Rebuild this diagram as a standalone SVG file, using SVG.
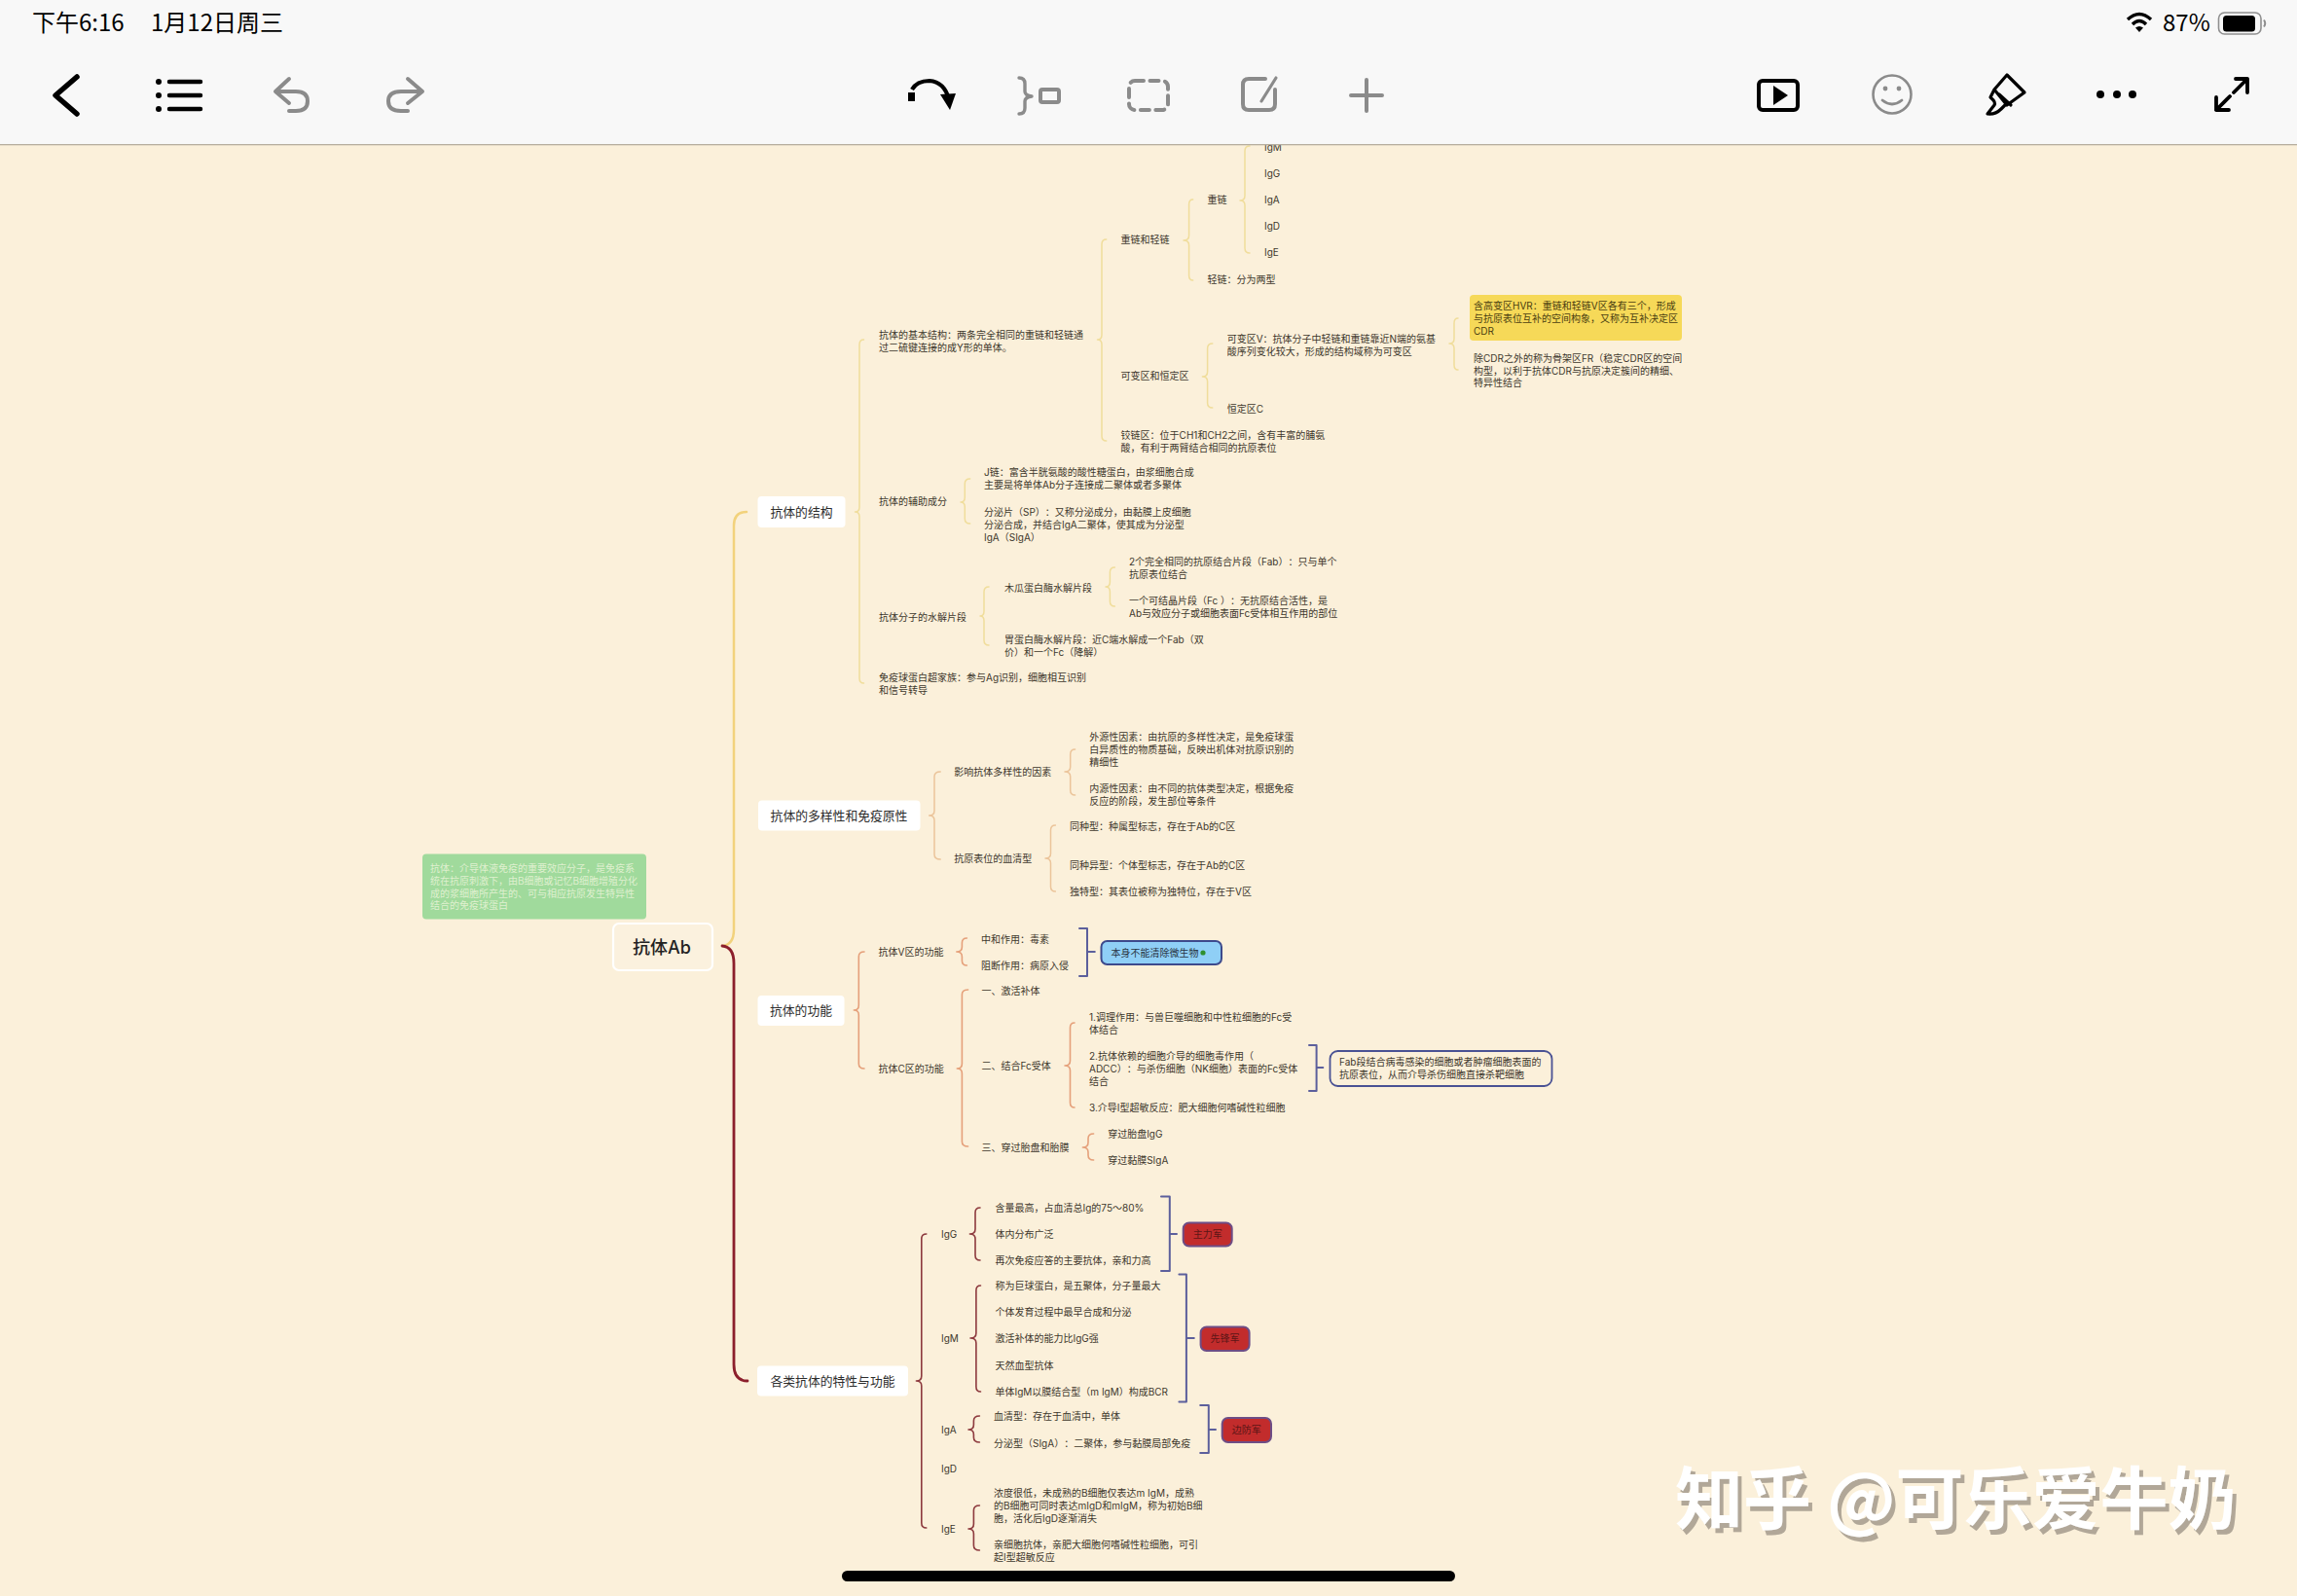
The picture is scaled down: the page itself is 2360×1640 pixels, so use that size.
<svg xmlns="http://www.w3.org/2000/svg" width="2360" height="1640" viewBox="0 0 2360 1640">
<defs><filter id="wmShadow" x="-5%" y="-20%" width="110%" height="140%"><feDropShadow dx="4" dy="5" stdDeviation="0" flood-color="#b1a798"/></filter></defs>
<style>
text{font-family:"Inter","Noto Sans CJK SC","Noto Sans",sans-serif;text-spacing-trim:space-all}
.t{font-size:10px;fill:#3d372c}
.hd{font-size:12.8px;fill:#2c2c2c;text-anchor:middle}
.card{fill:#fff}
.c{fill:none;stroke-linecap:round;stroke-linejoin:round}
.y{stroke:#f0dd9b;stroke-width:1.5}
.o{stroke:#ebc49a;stroke-width:1.5}
.s{stroke:#e5a07a;stroke-width:1.6}
.r{stroke:#8d3a3e;stroke-width:1.6}
.n{stroke:#5c5f9c;stroke-width:2}
.redbox{fill:#c22c2c;stroke:#6d4d86;stroke-width:2}
.redt{font-size:10px;fill:#5c1616;text-anchor:middle}
.sys{font-size:24px;fill:#000;font-family:"Noto Sans CJK SC",sans-serif}
.blk{fill:none;stroke:#000;stroke-width:4.5;stroke-linecap:round;stroke-linejoin:round}
.gry{fill:none;stroke:#8b8b8b;stroke-width:4;stroke-linecap:round;stroke-linejoin:round}
.wm{font-family:"Noto Sans CJK SC",sans-serif;font-size:70px;font-weight:700;fill:#fff;filter:url(#wmShadow)}
</style>
<rect width="2360" height="1640" fill="#fbf0da"/>
<g id="connectors">
<path class="c" stroke="#f2d27c" stroke-width="2.5" d="M767 526Q754 526 754 540V955Q754 971 742 972"/>
<path class="c" stroke="#8c1f2c" stroke-width="2.8" d="M742 972Q754 973 754 990V1402Q754 1419 768 1419"/>
<path class="c y" d="M887.5 349Q883 349 883 354V521Q883 526 878.5 526Q883 526 883 531V697Q883 702 887.5 702"/>
<path class="c y" d="M1136.7 246Q1132 246 1132 251V344Q1132 349 1127.5 349Q1132 349 1132 354V448Q1132 453 1136.7 453"/>
<path class="c y" d="M1225.7 205Q1221.6 205 1221.6 210V242Q1221.6 247 1216 247Q1221.6 247 1221.6 252V283Q1221.6 288 1225.7 288"/>
<path class="c y" d="M1284 150Q1279 150 1279 155V201Q1279 206 1274 206Q1279 206 1279 211V255Q1279 260 1284 260"/>
<path class="c y" d="M1245.8 353Q1240.6 353 1240.6 358V382Q1240.6 387 1235.4 387Q1240.6 387 1240.6 392V414Q1240.6 419 1245.8 419"/>
<path class="c y" d="M1498 327Q1494 327 1494 332V348Q1494 353 1489 353Q1494 353 1494 358V375Q1494 380 1498 380"/>
<path class="c y" d="M996.7 492Q991.3 492 991.3 497V511Q991.3 516 987 516Q991.3 516 991.3 521V533Q991.3 538 996.7 538"/>
<path class="c y" d="M1016 603Q1011 603 1011 608V628Q1011 633 1007 633Q1011 633 1011 638V658Q1011 663 1016 663"/>
<path class="c y" d="M1145.4 583Q1140.4 583 1140.4 588V598Q1140.4 603 1136 603Q1140.4 603 1140.4 608V618Q1140.4 623 1145.4 623"/>
<path class="c o" d="M966.2 793Q960 793 960 798V833Q960 838 954.6 838Q960 838 960 843V878Q960 883 966.2 883"/>
<path class="c o" d="M1104.6 770Q1099.7 770 1099.7 775V788Q1099.7 793 1094 793Q1099.7 793 1099.7 798V812Q1099.7 817 1104.6 817"/>
<path class="c o" d="M1084.4 848Q1079.5 848 1079.5 853V877Q1079.5 882 1074 882Q1079.5 882 1079.5 887V911Q1079.5 916 1084.4 916"/>
<path class="c s" d="M888 978Q882.3 978 882.3 983V1033Q882.3 1038 877.3 1038Q882.3 1038 882.3 1043V1093Q882.3 1098 888 1098"/>
<path class="c s" d="M993.4 964Q988.4 964 988.4 969V973Q988.4 978 982.8 978Q988.4 978 988.4 983V987Q988.4 992 993.4 992"/>
<path class="c s" d="M994.6 1017Q988.4 1017 988.4 1022V1093Q988.4 1098 983.3 1098Q988.4 1098 988.4 1103V1173Q988.4 1178 994.6 1178"/>
<path class="c s" d="M1104 1051Q1099.5 1051 1099.5 1056V1090Q1099.5 1095 1094 1095Q1099.5 1095 1099.5 1100V1133Q1099.5 1138 1104 1138"/>
<path class="c s" d="M1123.6 1165Q1118 1165 1118 1170V1174Q1118 1179 1112.4 1179Q1118 1179 1118 1184V1187Q1118 1192 1123.6 1192"/>
<path class="c r" d="M951.8 1268Q946.8 1268 946.8 1273V1414Q946.8 1419 941.4 1419Q946.8 1419 946.8 1424V1565Q946.8 1570 951.8 1570"/>
<path class="c r" d="M1007 1241Q1002 1241 1002 1246V1263Q1002 1268 996.4 1268Q1002 1268 1002 1273V1290Q1002 1295 1007 1295"/>
<path class="c r" d="M1007.5 1321Q1002.9 1321 1002.9 1326V1370Q1002.9 1375 997 1375Q1002.9 1375 1002.9 1380V1425Q1002.9 1430 1007.5 1430"/>
<path class="c r" d="M1006.4 1455Q1000.4 1455 1000.4 1460V1464Q1000.4 1469 995 1469Q1000.4 1469 1000.4 1474V1477Q1000.4 1482 1006.4 1482"/>
<path class="c r" d="M1006.4 1547Q1000.4 1547 1000.4 1552V1566Q1000.4 1571 995 1571Q1000.4 1571 1000.4 1576V1588Q1000.4 1593 1006.4 1593"/>
<path class="c n" d="M1109 954H1117V1003H1109M1117 978H1124.8"/>
<path class="c n" d="M1345 1074H1352.6V1121H1345M1352.6 1097H1359.3"/>
<path class="c n" d="M1193 1229.5H1201.8V1306H1193M1201.8 1268H1209"/>
<path class="c n" d="M1211.4 1309.5H1218.9V1440.5H1211.4M1218.9 1375H1226.8"/>
<path class="c n" d="M1233.2 1444H1241.8V1493H1233.2M1241.8 1469H1249"/>
</g>
<g id="root"><rect x="630" y="949" width="102" height="48" rx="6" fill="#fbf1de" stroke="#fff" stroke-width="2.2"/><text x="680" y="979.5" text-anchor="middle" font-size="18" font-weight="500" fill="#222">抗体Ab</text></g>
<g id="note-antibody"><rect x="434" y="877.5" width="230" height="67" rx="4" fill="#a0da9c"/><text class="t" style="fill:#dff0cf"><tspan x="442" y="896">抗体：介导体液免疫的重要效应分子，是免疫系</tspan><tspan x="442" y="909">统在抗原刺激下，由B细胞或记忆B细胞增殖分化</tspan><tspan x="442" y="921.5">成的浆细胞所产生的、可与相应抗原发生特异性</tspan><tspan x="442" y="934">结合的免疫球蛋白</tspan></text></g>
<g id="branch-structure"><rect class="card" x="778.5" y="510" width="90" height="32" rx="4"/><text class="hd" x="823.5" y="530.5">抗体的结构</text></g>
<g id="branch-diversity"><rect class="card" x="779" y="822.5" width="166.5" height="31" rx="4"/><text class="hd" x="862" y="843">抗体的多样性和免疫原性</text></g>
<g id="branch-function"><rect class="card" x="778.5" y="1023" width="89" height="31" rx="4"/><text class="hd" x="823" y="1043">抗体的功能</text></g>
<g id="branch-classes"><rect class="card" x="778" y="1403.5" width="155" height="31" rx="4"/><text class="hd" x="855.5" y="1424">各类抗体的特性与功能</text></g>
<g id="n-basic"><text class="t"><tspan x="903" y="347.5">抗体的基本结构：两条完全相同的重链和轻链通</tspan><tspan x="903" y="360.5">过二硫键连接的成Y形的单体。</tspan></text></g>
<g id="n-hl"><text class="t" x="1151.6" y="250">重链和轻链</text></g>
<g id="n-heavy"><text class="t" x="1240.6" y="209">重链</text></g>
<g id="n-igm1"><text class="t" x="1299" y="155">IgM</text></g>
<g id="n-igg1"><text class="t" x="1299" y="182">IgG</text></g>
<g id="n-iga1"><text class="t" x="1299" y="209">IgA</text></g>
<g id="n-igd1"><text class="t" x="1299" y="236">IgD</text></g>
<g id="n-ige1"><text class="t" x="1299" y="263">IgE</text></g>
<g id="n-light"><text class="t" x="1240.6" y="291">轻链：分为两型</text></g>
<g id="n-vc"><text class="t" x="1151.6" y="390">可变区和恒定区</text></g>
<g id="n-v"><text class="t"><tspan x="1260.7" y="351.5">可变区V：抗体分子中轻链和重链靠近N端的氨基</tspan><tspan x="1260.7" y="364.5">酸序列变化较大，形成的结构域称为可变区</tspan></text></g>
<g id="n-hvr"><rect x="1510" y="303" width="218" height="47" rx="4" fill="#f6d958"/><text class="t" style="fill:#4a3d10"><tspan x="1514" y="318">含高变区HVR：重链和轻链V区各有三个，形成</tspan><tspan x="1514" y="331">与抗原表位互补的空间构象，又称为互补决定区</tspan><tspan x="1514" y="344">CDR</tspan></text></g>
<g id="n-fr"><text class="t"><tspan x="1514" y="371.5">除CDR之外的称为骨架区FR（稳定CDR区的空间</tspan><tspan x="1514" y="384.5">构型，以利于抗体CDR与抗原决定簇间的精细、</tspan><tspan x="1514" y="397">特异性结合</tspan></text></g>
<g id="n-c"><text class="t" x="1260.7" y="424">恒定区C</text></g>
<g id="n-hinge"><text class="t"><tspan x="1151.6" y="451">铰链区：位于CH1和CH2之间，含有丰富的脯氨</tspan><tspan x="1151.6" y="464">酸，有利于两臂结合相同的抗原表位</tspan></text></g>
<g id="n-aux"><text class="t" x="903" y="519">抗体的辅助成分</text></g>
<g id="n-j"><text class="t"><tspan x="1011" y="489">J链：富含半胱氨酸的酸性糖蛋白，由浆细胞合成</tspan><tspan x="1011" y="502">主要是将单体Ab分子连接成二聚体或者多聚体</tspan></text></g>
<g id="n-sp"><text class="t"><tspan x="1011" y="530">分泌片（SP）：又称分泌成分，由黏膜上皮细胞</tspan><tspan x="1011" y="543">分泌合成，并结合IgA二聚体，使其成为分泌型</tspan><tspan x="1011" y="556">IgA（SIgA）</tspan></text></g>
<g id="n-frag"><text class="t" x="903" y="638">抗体分子的水解片段</text></g>
<g id="n-papain"><text class="t" x="1032" y="608">木瓜蛋白酶水解片段</text></g>
<g id="n-fab"><text class="t"><tspan x="1160" y="581">2个完全相同的抗原结合片段（Fab）：只与单个</tspan><tspan x="1160" y="594">抗原表位结合</tspan></text></g>
<g id="n-fc"><text class="t"><tspan x="1160" y="621">一个可结晶片段（Fc ）：无抗原结合活性，是</tspan><tspan x="1160" y="634">Ab与效应分子或细胞表面Fc受体相互作用的部位</tspan></text></g>
<g id="n-pepsin"><text class="t"><tspan x="1032" y="661">胃蛋白酶水解片段：近C端水解成一个Fab（双</tspan><tspan x="1032" y="674">价）和一个Fc（降解）</tspan></text></g>
<g id="n-igsf"><text class="t"><tspan x="903" y="700">免疫球蛋白超家族：参与Ag识别，细胞相互识别</tspan><tspan x="903" y="713">和信号转导</tspan></text></g>
<g id="n-factors"><text class="t" x="980.3" y="797">影响抗体多样性的因素</text></g>
<g id="n-ext"><text class="t"><tspan x="1119.3" y="761">外源性因素：由抗原的多样性决定，是免疫球蛋</tspan><tspan x="1119.3" y="774">白异质性的物质基础，反映出机体对抗原识别的</tspan><tspan x="1119.3" y="787">精细性</tspan></text></g>
<g id="n-int"><text class="t"><tspan x="1119.3" y="814">内源性因素：由不同的抗体类型决定，根据免疫</tspan><tspan x="1119.3" y="827">反应的阶段，发生部位等条件</tspan></text></g>
<g id="n-sero"><text class="t" x="980.3" y="886">抗原表位的血清型</text></g>
<g id="n-iso"><text class="t" x="1099" y="853">同种型：种属型标志，存在于Ab的C区</text></g>
<g id="n-allo"><text class="t" x="1099" y="893">同种异型：个体型标志，存在于Ab的C区</text></g>
<g id="n-idio"><text class="t" x="1099" y="920">独特型：其表位被称为独特位，存在于V区</text></g>
<g id="n-vfun"><text class="t" x="902.5" y="982">抗体V区的功能</text></g>
<g id="n-neut"><text class="t" x="1008" y="969">中和作用：毒素</text></g>
<g id="n-block"><text class="t" x="1008" y="996">阻断作用：病原入侵</text></g>
<g id="n-nokill"><rect x="1131.5" y="967" width="123.5" height="24" rx="6" fill="#8fcff6" stroke="#3d4a8c" stroke-width="2"/><text class="t" x="1141.5" y="982.5" style="fill:#28333f">本身不能清除微生物</text><circle cx="1236" cy="979" r="2.6" fill="#2f8f2f"/></g>
<g id="n-cfun"><text class="t" x="902.5" y="1102">抗体C区的功能</text></g>
<g id="n-comp"><text class="t" x="1008.6" y="1022">一、激活补体</text></g>
<g id="n-fcr"><text class="t" x="1008.6" y="1099">二、结合Fc受体</text></g>
<g id="n-opso"><text class="t"><tspan x="1119" y="1049">1.调理作用：与兽巨噬细胞和中性粒细胞的Fc受</tspan><tspan x="1119" y="1062">体结合</tspan></text></g>
<g id="n-adcc"><text class="t"><tspan x="1119" y="1089">2.抗体依赖的细胞介导的细胞毒作用（</tspan><tspan x="1119" y="1102">ADCC）：与杀伤细胞（NK细胞）表面的Fc受体</tspan><tspan x="1119" y="1115">结合</tspan></text></g>
<g id="n-fabnote"><rect x="1366.5" y="1080" width="228" height="36" rx="8" fill="none" stroke="#4a5294" stroke-width="1.8"/><text class="t"><tspan x="1376" y="1095">Fab段结合病毒感染的细胞或者肿瘤细胞表面的</tspan><tspan x="1376" y="1108">抗原表位，从而介导杀伤细胞直接杀靶细胞</tspan></text></g>
<g id="n-type1"><text class="t" x="1119" y="1142">3.介导I型超敏反应：肥大细胞何嗜碱性粒细胞</text></g>
<g id="n-pass"><text class="t" x="1008.6" y="1183">三、穿过胎盘和胎膜</text></g>
<g id="n-placenta"><text class="t" x="1138.2" y="1169">穿过胎盘IgG</text></g>
<g id="n-mucosa"><text class="t" x="1138.2" y="1196">穿过黏膜SIgA</text></g>
<g id="n-igg"><text class="t" x="967" y="1272">IgG</text></g>
<g id="n-igg-a"><text class="t" x="1022.5" y="1245">含量最高，占血清总Ig的75～80%</text></g>
<g id="n-igg-b"><text class="t" x="1022.5" y="1272">体内分布广泛</text></g>
<g id="n-igg-c"><text class="t" x="1022.5" y="1299">再次免疫应答的主要抗体，亲和力高</text></g>
<g id="n-army1"><rect class="redbox" x="1215.7" y="1256.5" width="50" height="24" rx="6"/><text class="redt" x="1240.7" y="1272">主力军</text></g>
<g id="n-igm"><text class="t" x="967" y="1379">IgM</text></g>
<g id="n-igm-a"><text class="t" x="1022.5" y="1325">称为巨球蛋白，是五聚体，分子量最大</text></g>
<g id="n-igm-b"><text class="t" x="1022.5" y="1352">个体发育过程中最早合成和分泌</text></g>
<g id="n-igm-c"><text class="t" x="1022.5" y="1379">激活补体的能力比IgG强</text></g>
<g id="n-igm-d"><text class="t" x="1022.5" y="1407">天然血型抗体</text></g>
<g id="n-igm-e"><text class="t" x="1022.5" y="1434">单体IgM以膜结合型（m IgM）构成BCR</text></g>
<g id="n-army2"><rect class="redbox" x="1233.6" y="1363.5" width="50" height="24.5" rx="6"/><text class="redt" x="1258.6" y="1379">先锋军</text></g>
<g id="n-iga"><text class="t" x="967" y="1473">IgA</text></g>
<g id="n-iga-a"><text class="t" x="1021" y="1459">血清型：存在于血清中，单体</text></g>
<g id="n-iga-b"><text class="t" x="1021" y="1487">分泌型（SIgA）：二聚体，参与黏膜局部免疫</text></g>
<g id="n-army3"><rect class="redbox" x="1255.7" y="1457" width="50.3" height="25" rx="6"/><text class="redt" x="1280.8" y="1473">边防军</text></g>
<g id="n-igd"><text class="t" x="967" y="1512.5">IgD</text></g>
<g id="n-igd-a"><text class="t"><tspan x="1021" y="1538">浓度很低，未成熟的B细胞仅表达m IgM，成熟</tspan><tspan x="1021" y="1551">的B细胞可同时表达mIgD和mIgM，称为初始B细</tspan><tspan x="1021" y="1564">胞，活化后IgD逐渐消失</tspan></text></g>
<g id="n-ige"><text class="t" x="967" y="1574.5">IgE</text></g>
<g id="n-ige-a"><text class="t"><tspan x="1021" y="1591">亲细胞抗体，亲肥大细胞何嗜碱性粒细胞，可引</tspan><tspan x="1021" y="1604">起I型超敏反应</tspan></text></g>
<g id="toolbar">
<rect width="2360" height="148" fill="#f8f8f8"/>
<rect y="148" width="2360" height="1.3" fill="#b6ae9f"/>
<text class="sys" x="33" y="32">下午6:16</text>
<text class="sys" x="155" y="32">1月12日周三</text>
<path d="M2186 20Q2198 9 2210 20" fill="none" stroke="#000" stroke-width="3.4"/>
<path d="M2191 25Q2198 18 2205 25" fill="none" stroke="#000" stroke-width="3.4"/>
<path d="M2194 28.5Q2198 25.5 2202 28.5L2198 33Z" fill="#000"/>
<text class="sys" x="2222" y="32">87%</text>
<rect x="2279.5" y="13" width="43.5" height="22" rx="6" fill="none" stroke="#8f8f8f" stroke-width="1.6"/>
<rect x="2284" y="16" width="33" height="16.5" rx="3.5" fill="#000"/>
<path d="M2326 20.5Q2328.5 24 2326 27.5" fill="none" stroke="#8f8f8f" stroke-width="2"/>
<path class="blk" d="M79 79L57 98L79 117" style="stroke-width:5.5"/>
<g fill="#000"><circle cx="163" cy="84" r="3"/><circle cx="163" cy="98" r="3"/><circle cx="163" cy="112" r="3"/></g>
<path class="blk" d="M174 84H206M174 98H206M174 112H206"/>
<path class="gry" d="M297 81L283 94L297 106M284 94H304Q316 94 316 104Q316 114 304 114H297"/>
<path class="gry" d="M419 81L434 94L419 106M433 94H412Q399 94 399 104Q399 114 412 114H419"/>
<rect x="933" y="95" width="7" height="9" fill="#000"/>
<path d="M937 92Q942 83 955 83Q970 84 975 102" fill="none" stroke="#000" stroke-width="4.2"/>
<path d="M966 97L982 96L976 113Z" fill="#000"/>
<path class="gry" style="stroke-width:3.4" d="M1047 80Q1053 80 1053 86V94Q1053 98 1060 99Q1053 100 1053 104V111Q1053 117 1047 117"/>
<rect class="gry" x="1069" y="92" width="19" height="13" rx="2"/>
<rect class="gry" x="1160" y="83" width="40" height="30" rx="6" stroke-dasharray="9 6.5"/>
<path class="gry" d="M1300 81H1283Q1277 81 1277 87V107Q1277 113 1283 113H1304Q1310 113 1310 107V92"/>
<path class="gry" style="stroke-width:3.2" d="M1311 80L1296 104"/>
<path class="gry" d="M1388 98H1420M1404 82V114"/>
<rect x="1807" y="83" width="40" height="30" rx="4" fill="none" stroke="#000" stroke-width="4"/>
<path d="M1822 88L1837 98L1822 108Z" fill="#000"/>
<circle cx="1944" cy="97" r="19.5" class="gry" style="stroke-width:2.6"/>
<circle cx="1937" cy="91" r="2.4" fill="#8b8b8b"/><circle cx="1951" cy="91" r="2.4" fill="#8b8b8b"/>
<path class="gry" style="stroke-width:2.8" d="M1934 103Q1944 111 1954 103"/>
<path class="blk" style="stroke-width:3.2" d="M2062 77L2080 95L2062 108L2049 92ZM2054 97L2066 108M2049 92L2045 100Q2051 105 2049 108L2042 117Q2050 118 2056 112L2060 108"/>
<circle cx="2158" cy="97" r="4"/><circle cx="2175" cy="97" r="4"/><circle cx="2191" cy="97" r="4"/>
<path class="blk" style="stroke-width:3.8" d="M2297 81H2309V95M2309 81L2295 95M2277 100V113H2290M2277 113L2291 99"/>
</g>
<rect id="home" x="865" y="1614" width="630" height="11" rx="5.5" fill="#000"/>
<g id="watermark"><text class="wm" x="1721" y="1566">知乎 @可乐爱牛奶</text></g>
</svg>
